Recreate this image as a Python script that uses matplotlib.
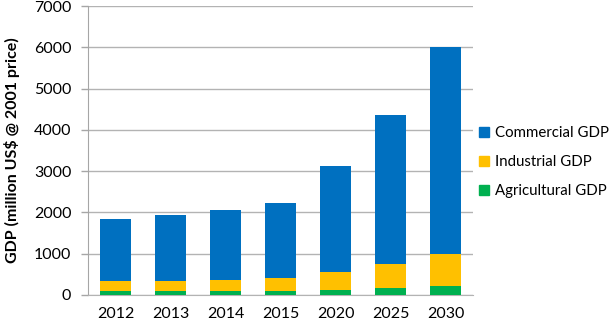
import numpy as np
import matplotlib.pyplot as plt
from matplotlib.patches import Patch

plt.rcParams['font.family'] = ['Lato', 'DejaVu Sans']

# Data (million US$ @ 2001 price)
years = ['2012', '2013', '2014', '2015', '2020', '2025', '2030']
agricultural = [85, 85, 100, 100, 110, 160, 210]
industrial = [260, 260, 275, 315, 440, 590, 790]
commercial = [1500, 1600, 1680, 1810, 2580, 3605, 5000]

blue = '#0070C0'
yellow = '#FFC000'
green = '#00B050'

fig = plt.figure(figsize=(6.15, 3.24), dpi=100)
ax = fig.add_axes([88 / 615, 29 / 324, 385 / 615, 289 / 324])

x = np.arange(len(years))
agr = np.array(agricultural)
ind = np.array(industrial)
com = np.array(commercial)
w = 0.56
ax.bar(x, agr, w, color=green, zorder=3)
ax.bar(x, ind, w, bottom=agr, color=yellow, zorder=3)
ax.bar(x, com, w, bottom=agr + ind, color=blue, zorder=3)

ax.set_xlim(-0.5, len(years) - 0.5)
ax.set_ylim(0, 7000)
ax.set_yticks(range(0, 7001, 1000))
ax.set_xticks(x)
ax.set_xticklabels(years)
ax.tick_params(labelsize=11.5, colors='black')
ax.tick_params(axis='x', length=0, pad=9)
ax.tick_params(axis='y', length=5, width=1, color='#a6a6a6', pad=7)
ax.grid(axis='y', color='#b3b3b3', linewidth=1, zorder=0)
for s in ['top', 'right']:
    ax.spines[s].set_visible(False)
ax.spines['left'].set_color('#a6a6a6')
ax.spines['bottom'].set_color('#b3b3b3')
ax.set_ylabel('GDP (million US$ @ 2001 price)', fontsize=11.5, fontweight='bold', labelpad=10)

handles = [Patch(color=blue, label='Commercial GDP'),
           Patch(color=yellow, label='Industrial GDP'),
           Patch(color=green, label='Agricultural GDP')]
fig.legend(handles=handles, loc='center left', bbox_to_anchor=(479 / 615, 1 - 162 / 324),
           frameon=False, fontsize=10.8, handlelength=0.7, handleheight=0.7,
           handletextpad=0.35, labelspacing=1.0, borderaxespad=0, borderpad=0)

fig.savefig('out.png', dpi=100)
